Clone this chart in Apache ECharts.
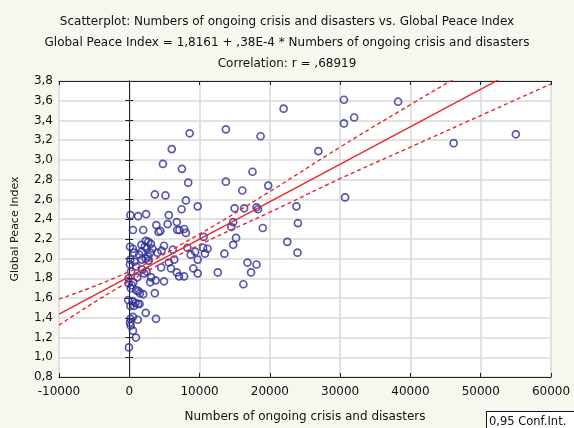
<!DOCTYPE html>
<html><head><meta charset="utf-8">
<script src="https://cdn.jsdelivr.net/npm/echarts@6/dist/echarts.min.js"></script>
<style>html,body{margin:0;padding:0;background:#f8f7ef;}#c{width:574px;height:428px;}</style>
</head><body><div id="c"></div>
<script>
// Scatter data: Numbers of ongoing crisis and disasters (x) vs Global Peace Index (y)
const crisisX = [30540,38240,21960,30540,32000,13740,8590,18680,55000,46150,6040,26900,4790,7490,17530,8380,13740,19770,16080,3640,5150,30700,8060,9730,23780,14980,16340,18100,18310,7440,160,1250,2390,5620,23990,14780,3850,5460,6760,14520,520,1980,4160,4420,6820,7130,7800,8060,18990,10560,15190,22480,2340,2710,3070,1720,100,520,2190,2500,3280,4940,6190,8270,10510,11130,14780,680,1770,2970,4010,4580,8740,9370,10770,13530,23930,160,730,1770,2340,2760,6400,9730,16810,100,990,4530,5620,5930,9110,18100,260,2130,2450,6760,9730,12590,17330,7080,7800,-100,1140,3120,2970,3750,4940,570,-100,16230,210,990,1300,1980,1510,3640,-160,470,880,1250,160,680,1460,2340,520,160,1200,3800,100,210,520,940,-50,1400,2710,360,1820];
const peaceY  = [3.61,3.59,3.52,3.37,3.43,3.31,3.27,3.24,3.26,3.17,3.11,3.09,2.96,2.91,2.88,2.77,2.78,2.74,2.69,2.65,2.64,2.62,2.59,2.53,2.53,2.51,2.51,2.52,2.50,2.50,2.44,2.43,2.45,2.44,2.36,2.37,2.34,2.35,2.37,2.32,2.29,2.29,2.27,2.28,2.29,2.29,2.30,2.26,2.31,2.22,2.21,2.17,2.18,2.17,2.15,2.14,2.12,2.10,2.12,2.10,2.10,2.13,2.09,2.11,2.11,2.10,2.14,2.06,2.07,2.06,2.06,2.08,2.04,2.07,2.05,2.05,2.06,1.99,1.97,1.99,2.00,1.98,1.99,1.99,1.96,1.94,1.92,1.91,1.96,1.90,1.90,1.94,1.87,1.85,1.87,1.86,1.85,1.86,1.86,1.82,1.82,1.80,1.81,1.81,1.76,1.78,1.77,1.76,1.75,1.74,1.70,1.68,1.67,1.64,1.65,1.65,1.58,1.57,1.55,1.54,1.52,1.52,1.54,1.45,1.41,1.39,1.38,1.39,1.35,1.32,1.27,1.20,1.10,2.04,2.02,1.73,1.89];

// Regression line (from the stated equation)
const intercept = 1.8161;
const slope = 0.000038;
const regX = [-10000, 60000];

// 0.95 confidence band
const bandX     = [-10000, 0, 10000, 20000, 30000, 40000, 50000, 60000];
const bandUpper = [1.59, 1.87, 2.25, 2.68, 3.13, 3.56, 3.98, 4.41];
const bandLower = [1.325, 1.77, 2.14, 2.47, 2.81, 3.13, 3.45, 3.77];

// Axis ticks
const xMin = -10000, xMax = 60000, xStep = 10000;
const yMin = 0.8, yMax = 3.8, yStep = 0.2;

const titleLines = [
  'Scatterplot: Numbers of ongoing crisis and disasters vs. Global Peace Index',
  'Global Peace Index = 1,8161 + ,38E-4 * Numbers of ongoing crisis and disasters',
  'Correlation: r = ,68919'
];

const FONT = 'DejaVu Sans';
const chart = echarts.init(document.getElementById('c'));
const scatterData = crisisX.map((x, i) => [x, peaceY[i]]);
const regData = regX.map(x => [x, intercept + slope * x]);
const upData = bandX.map((x, i) => [x, bandUpper[i]]);
const loData = bandX.map((x, i) => [x, bandLower[i]]);
const fmtY = v => (Math.round(v * 10) / 10).toFixed(1).replace('.', ',');
const fmtX = v => String(Math.round(v));

const axisCommon = {
  type: 'value',
  axisLine: {show: true, lineStyle: {color: '#222', width: 1}},
  axisTick: {show: true, inside: true, length: 4, lineStyle: {color: '#222'}},
};

chart.setOption({
  backgroundColor: '#f8f7ef',
  animation: false,
  title: titleLines.map((t, i) => ({
    text: t, left: 'center', top: 11 + i * 21,
    textStyle: {fontFamily: FONT, fontSize: 12, fontWeight: 'normal', color: '#111'}
  })),
  grid: {left: 59, right: 23, top: 81, bottom: 48, show: true, backgroundColor: '#ffffff', borderWidth: 0},
  xAxis: [
    Object.assign({}, axisCommon, {
      min: xMin, max: xMax, interval: xStep, position: 'bottom',
      name: 'Numbers of ongoing crisis and disasters', nameLocation: 'middle', nameGap: 34,
      nameTextStyle: {fontFamily: FONT, fontSize: 12, color: '#111'},
      axisLabel: {fontFamily: FONT, fontSize: 12, color: '#111', margin: 9, formatter: fmtX},
      splitLine: {show: true, lineStyle: {color: '#d9d9d9', width: 1.5}}
    }),
    Object.assign({}, axisCommon, {
      min: xMin, max: xMax, interval: xStep, position: 'top',
      axisLabel: {show: false}, splitLine: {show: false}
    })
  ],
  yAxis: [
    Object.assign({}, axisCommon, {
      min: yMin, max: yMax, interval: yStep, position: 'left',
      name: 'Global Peace Index', nameLocation: 'middle', nameGap: 38, nameRotate: 90,
      nameTextStyle: {fontFamily: FONT, fontSize: 11, color: '#111'},
      axisLabel: {fontFamily: FONT, fontSize: 12, color: '#111', margin: 6, formatter: fmtY},
      splitLine: {show: true, lineStyle: {color: '#d9d9d9', width: 1.5}}
    }),
    Object.assign({}, axisCommon, {
      min: yMin, max: yMax, interval: yStep, position: 'right',
      axisLabel: {show: false}, splitLine: {show: false}
    })
  ],
  series: [
    {
      type: 'scatter', data: scatterData, symbol: 'circle', symbolSize: 7,
      itemStyle: {color: 'rgba(0,0,0,0)', borderColor: '#2f2f96', borderWidth: 1.7},
      z: 3
    },
    {
      type: 'line', data: regData, symbol: 'none', clip: true,
      lineStyle: {color: '#e8262d', width: 1.4}, z: 4
    },
    {
      type: 'line', data: upData, symbol: 'none', smooth: true, clip: true,
      lineStyle: {color: '#e8262d', width: 1.4, type: [4, 3]}, z: 4
    },
    {
      type: 'line', data: loData, symbol: 'none', smooth: true, clip: true,
      lineStyle: {color: '#e8262d', width: 1.4, type: [4, 3]}, z: 4
    }
  ],
  graphic: [
    {type: 'rect', left: 486, top: 411, shape: {width: 100, height: 24},
     style: {fill: '#ffffff', stroke: '#111', lineWidth: 1}},
    {type: 'text', left: 489, top: 416,
     style: {text: '0,95 Conf.Int.', fontFamily: FONT, fontSize: 11.5, fill: '#111'}}
  ]
});
</script></body></html>
